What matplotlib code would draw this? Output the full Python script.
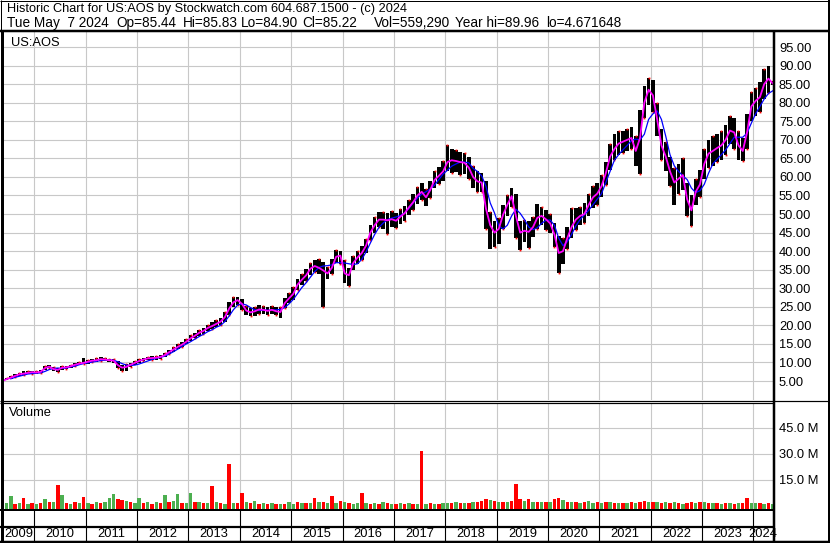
import numpy as np
import pandas as pd
import matplotlib
matplotlib.use('Agg')
import matplotlib.pyplot as plt
from matplotlib.lines import Line2D

plt.rcParams['font.family'] = ['Liberation Sans', 'DejaVu Sans']

# monthly data, May 2009 .. May 2024
months = pd.period_range('2009-05', '2024-05', freq='M')

price_mid = [5.0, 5.5, 5.9, 6.4, 6.8, 7.0, 7.2, 7.4,
	7.3, 7.5, 8.5, 8.9, 8.2, 8.0, 8.6, 8.7, 9.0, 9.4, 9.7, 9.9,
	10.2, 10.5, 10.6, 10.9, 10.8, 10.6, 10.5, 9.3, 8.6, 8.8, 9.4, 9.9,
	10.4, 10.8, 11.1, 11.2, 11.3, 11.5, 12.0, 12.8, 13.5, 14.2, 14.8, 15.6,
	16.5, 17.2, 18.0, 18.5, 19.3, 19.8, 20.4, 21.0, 22.2, 24.5, 26.2, 26.8,
	25.8, 24.0, 23.5, 23.8, 24.3, 24.2, 23.9, 24.2, 23.8, 23.6, 26.0, 27.3,
	28.5, 31.0, 32.3, 33.5, 35.3, 36.0, 35.5, 34.8, 34.0, 35.5, 38.5, 38.8,
	34.0, 33.5, 36.8, 38.3, 39.5, 41.5, 45.0, 47.0, 48.5, 48.5, 48.3, 48.6,
	48.2, 49.3, 50.2, 51.8, 53.2, 55.0, 56.0, 54.5, 56.5, 59.2, 60.3, 61.5,
	64.0, 64.5, 64.3, 64.0, 63.8, 62.5, 60.0, 58.8, 58.5, 51.5, 47.0, 45.0,
	46.0, 49.8, 52.5, 54.8, 49.5, 45.0, 45.5, 45.2, 46.5, 49.0, 49.5, 48.6,
	47.5, 44.5, 39.5, 40.0, 43.5, 46.5, 48.5, 49.5, 50.0, 52.5, 54.5, 55.5,
	57.5, 61.0, 65.5, 67.5, 69.0, 69.5, 70.0, 70.5, 67.0, 70.5, 80.0, 83.5,
	82.0, 75.5, 68.5, 65.5, 61.5, 58.5, 59.5, 60.5, 54.0, 51.0, 56.0, 58.0,
	63.5, 66.3, 67.0, 67.8, 68.5, 70.0, 72.5, 72.0, 68.5, 67.0, 72.0, 79.0,
	80.5, 81.5, 85.0, 86.5, 85.2]

price_hi = [5.3, 5.9, 6.3, 6.8, 7.2, 7.6, 7.6, 7.8,
	7.7, 8.0, 9.0, 9.3, 8.9, 8.5, 9.0, 9.1, 9.4, 9.8, 10.2, 11.2,
	10.6, 11.0, 11.1, 11.5, 11.3, 11.0, 11.0, 10.3, 9.3, 9.5, 9.9, 10.3,
	10.9, 11.3, 11.6, 11.8, 11.8, 12.0, 12.6, 13.4, 14.2, 14.9, 15.6, 16.4,
	17.3, 18.0, 18.8, 19.4, 20.2, 20.8, 21.4, 22.0, 23.5, 26.2, 27.7, 27.6,
	27.2, 25.3, 24.6, 24.9, 25.4, 25.2, 25.0, 25.3, 24.9, 25.0, 27.3, 28.7,
	30.3, 32.6, 33.9, 35.1, 36.9, 37.6, 37.8, 37.0, 35.8, 38.0, 40.3, 40.0,
	37.5, 35.5, 38.6, 40.0, 41.3, 43.4, 47.1, 49.2, 50.5, 50.5, 50.4, 50.8,
	50.2, 51.3, 52.2, 53.9, 55.4, 57.2, 58.4, 56.8, 58.8, 61.5, 62.7, 64.2,
	68.5, 67.5, 67.3, 66.8, 66.5, 65.5, 63.0, 61.5, 61.0, 59.0, 50.5, 48.0,
	49.0, 52.5, 55.0, 57.0, 55.5, 48.0, 48.5, 48.0, 49.2, 52.7, 52.0, 51.0,
	50.0, 47.5, 44.0, 43.5, 46.5, 51.5, 51.5, 52.0, 53.0, 55.5, 57.5, 58.5,
	60.5, 64.0, 69.0, 71.5, 72.5, 72.5, 73.0, 73.5, 71.0, 78.0, 84.5, 86.6,
	86.0, 80.0, 73.0, 69.5, 65.5, 62.5, 63.5, 65.0, 58.5, 55.0, 59.5, 62.0,
	67.5, 70.0, 71.0, 71.5, 72.5, 74.0, 76.5, 76.0, 72.5, 70.5, 77.0, 83.0,
	84.0, 85.5, 89.0, 89.96, 85.8]

price_lo = [4.67, 5.2, 5.5, 6.0, 6.4, 6.6, 6.9, 7.0,
	6.9, 7.1, 8.0, 8.4, 7.6, 7.5, 8.1, 8.2, 8.6, 9.0, 9.3, 9.5,
	9.7, 10.0, 10.1, 10.4, 10.3, 10.1, 9.9, 8.5, 7.8, 7.7, 8.9, 9.4,
	9.9, 10.3, 10.6, 10.6, 10.8, 11.0, 11.4, 12.2, 12.9, 13.5, 14.1, 14.9,
	15.8, 16.5, 17.2, 17.6, 18.4, 18.9, 19.5, 20.0, 21.0, 22.8, 25.0, 25.6,
	24.2, 22.8, 22.4, 22.6, 23.2, 23.1, 22.8, 23.1, 22.8, 22.0, 24.8, 26.0,
	26.8, 29.5, 30.8, 31.9, 33.7, 34.4, 33.9, 25.0, 32.5, 33.8, 36.8, 36.5,
	31.5, 30.6, 35.0, 36.6, 37.7, 39.6, 42.9, 45.0, 46.5, 46.0, 44.5, 46.5,
	46.2, 47.3, 48.2, 49.7, 51.0, 52.8, 53.8, 52.3, 54.3, 57.0, 58.0, 59.0,
	61.5, 61.0, 61.3, 60.5, 60.8, 59.5, 57.0, 56.0, 56.0, 46.0, 40.5, 41.0,
	42.0, 46.0, 49.5, 52.0, 43.5, 40.4, 42.5, 40.8, 43.8, 46.0, 47.0, 45.8,
	44.8, 41.0, 34.2, 36.5, 40.5, 43.5, 45.8, 47.0, 47.5, 49.5, 51.5, 52.5,
	54.5, 57.8, 62.0, 64.5, 66.0, 66.5, 67.0, 67.5, 63.0, 60.8, 76.0, 79.5,
	77.5, 71.0, 64.5, 61.5, 57.5, 52.5, 55.5, 56.5, 49.5, 46.8, 52.5, 54.5,
	59.5, 62.5, 63.0, 64.0, 64.5, 66.0, 69.0, 67.5, 64.5, 64.4, 67.5, 75.0,
	76.5, 77.5, 81.0, 82.5, 84.9]

ma_long = [np.nan, np.nan, 5.6, 6.0, 6.3, 6.6, 6.9, 7.0,
	7.1, 7.2, 7.6, 8.1, 8.4, 8.5, 8.4, 8.5, 8.8, 9.0, 9.4, 9.7,
	9.9, 10.1, 10.3, 10.5, 10.6, 10.7, 10.6, 10.2, 9.7, 9.3, 9.2, 9.3,
	9.6, 10.0, 10.4, 10.8, 11.1, 11.4, 11.7, 12.3, 12.9, 13.6, 14.3, 15.0,
	15.6, 16.3, 17.0, 17.6, 18.3, 18.8, 19.5, 20.0, 21.0, 22.5, 24.2, 25.5,
	25.8, 25.5, 24.8, 24.2, 24.0, 24.1, 24.1, 24.1, 24.2, 24.3, 24.8, 25.8,
	27.0, 28.6, 30.2, 31.5, 33.0, 34.5, 35.6, 36.0, 36.1, 36.3, 36.9, 36.9,
	36.8, 36.6, 36.4, 36.6, 37.8, 39.8, 42.2, 44.5, 46.4, 47.6, 48.5, 48.9,
	49.2, 49.6, 50.3, 51.5, 53.0, 54.3, 55.4, 56.0, 56.8, 57.8, 59.3, 60.8,
	61.8, 62.9, 63.5, 64.0, 64.0, 63.8, 62.3, 61.5, 60.3, 57.5, 53.0, 50.3,
	46.8, 46.0, 47.0, 49.5, 51.3, 50.2, 48.5, 46.5, 45.8, 46.3, 47.5, 48.3,
	48.4, 47.0, 43.5, 41.5, 42.5, 44.5, 46.8, 48.5, 49.8, 51.0, 52.5, 54.0,
	55.5, 58.5, 61.5, 64.5, 66.0, 67.3, 68.5, 69.8, 70.2, 70.0, 71.5, 75.5,
	77.0, 77.8, 75.5, 71.0, 66.0, 63.0, 61.5, 60.3, 59.3, 57.0, 55.8, 56.3,
	58.0, 61.0, 63.5, 64.8, 66.0, 67.3, 69.0, 70.7, 70.7, 70.7, 71.8, 74.5,
	77.0, 79.0, 81.0, 82.5, 83.2]

volume_m = [1.5, 2.0, 5.8, 1.4, 1.6, 4.8, 1.2, 1.8,
	1.4, 2.0, 4.3, 2.2, 2.5, 12.1, 6.3, 1.6, 1.2, 2.4, 1.7, 5.0,
	1.8, 1.4, 2.2, 1.7, 2.5, 4.6, 6.9, 4.0, 3.5, 3.0, 2.2, 1.7,
	4.8, 2.0, 2.4, 1.4, 2.5, 1.8, 6.3, 2.2, 2.8, 6.9, 1.6, 2.0,
	7.3, 2.2, 2.5, 1.8, 2.0, 11.7, 2.2, 1.7, 1.4, 24.2, 1.8, 1.6,
	7.6, 2.2, 1.7, 2.8, 1.4, 1.6, 1.2, 1.8, 1.4, 1.0, 1.2, 2.2,
	1.4, 2.2, 1.6, 1.8, 2.0, 4.4, 2.2, 2.5, 1.8, 5.8, 1.6, 3.0,
	2.4, 2.0, 1.4, 1.8, 7.7, 1.6, 1.4, 1.8, 1.2, 2.2, 1.6, 1.4,
	1.2, 1.6, 1.4, 1.8, 1.2, 1.4, 31.9, 1.2, 1.6, 1.4, 1.2, 1.8,
	1.6, 2.0, 2.5, 1.8, 2.0, 1.6, 2.2, 2.4, 3.0, 4.0, 3.5, 3.0,
	2.5, 2.4, 2.2, 3.0, 12.7, 4.0, 2.8, 4.0, 2.2, 2.5, 2.4, 2.2,
	2.5, 4.0, 4.5, 3.5, 2.5, 2.2, 2.4, 2.0, 2.2, 3.0, 2.0, 2.2,
	2.0, 2.2, 2.5, 1.8, 1.6, 1.7, 2.0, 2.4, 1.8, 2.2, 3.0, 2.2,
	2.5, 2.2, 2.0, 2.4, 1.8, 2.2, 1.6, 1.4, 2.0, 2.5, 1.8, 2.2,
	2.2, 2.0, 1.6, 1.8, 1.4, 1.6, 1.8, 1.4, 1.6, 2.0, 4.5, 1.8,
	1.8, 1.6, 1.4, 2.0, 1.0]

# bar colour per month as seen on the chart: r = down, g = up
volume_dir = ("rggrgrgr" + "grgrgrgrgrgr" + "grgrgggrrgrg" + "grgrgrgrggrg"
	+ "grgrgrgrgrgr" + "rgrgrgrgrgrg" + "grgrgrgrgrgr" + "grggrgrgrgrg"
	+ "rgrgrgrgrgrg" + "grgrgrgrrrgr" + "grgrrrgrgrgr" + "grrgrgrgrggr"
	+ "grgrgrgrgrrg" + "rgrgrgrgrrgr" + "grgrgrgrgrrg" + "grgrg")

years = list(range(2009, 2025))
price_ticks = list(range(5, 100, 5))
vol_ticks = [15, 30, 45]

header1 = "Historic Chart for US:AOS by Stockwatch.com 604.687.1500 - (c) 2024"
header2 = [("Tue May  7 2024", 6.7), ("Op=85.44", 116), ("Hi=85.83", 183),
	("Lo=84.90", 241), ("Cl=85.22", 302), ("Vol=559,290", 374),
	("Year hi=89.96", 455), ("lo=4.671648", 546)]

t = np.array([m.year + (m.month - 0.5) / 12 for m in months])
mid = np.array(price_mid)
hi = np.array(price_hi)
lo = np.array(price_lo)
vol = np.array(volume_m)

W, H = 830, 543
FS = 9.3
x0, x1 = 2009.39, 2024.38
vlo, vhi = -1.73, 59.42

fig = plt.figure(figsize=(W / 100, H / 100), dpi=100)

def rect(l, top, r, bot):
	return [l / W, 1 - bot / H, (r - l) / W, (bot - top) / H]

def line(xa, ya, xb, yb, lw):
	fig.add_artist(Line2D([xa / W, xb / W], [1 - ya / H, 1 - yb / H], transform=fig.transFigure,
		color='black', lw=lw * 0.72, solid_capstyle='butt', zorder=10))

grid = '#c8c8c8'

# price panel
ax = fig.add_axes(rect(3, 31, 773, 400))
ax.set_xlim(x0, x1)
ax.set_ylim(-0.11, 99.33)
for y in price_ticks:
	ax.axhline(y, color=grid, lw=0.8, zorder=0)
for yr in years[1:]:
	ax.axvline(yr, color=grid, lw=0.8, zorder=0)
ax.bar(t, hi - lo, bottom=lo, width=0.85 / 12, color='black', lw=0, zorder=2)
down = np.array([c == 'r' for c in volume_dir])
ax.plot(t[down], lo[down], ls='none', marker='s', ms=1.3, color='red', mew=0, zorder=3)
ax.plot(t[~down], hi[~down], ls='none', marker='s', ms=1.3, color='red', mew=0, zorder=3)
ax.plot(t, ma_long, color='#0000ff', lw=0.9, zorder=4)
ax.plot(t, mid, color='#ff00ff', lw=1.3, zorder=5)
ax.yaxis.tick_right()
ax.set_yticks(price_ticks)
ax.set_yticklabels(['%.2f' % v for v in price_ticks], fontsize=FS)
ax.tick_params(axis='y', length=0, pad=4.3)
ax.set_xticks([])
for s in ax.spines.values():
	s.set_visible(False)
ax.text(8 / 770, 1 - 12 / 369, 'US:AOS', transform=ax.transAxes, fontsize=FS, va='center', ha='left')

# volume panel
av = fig.add_axes(rect(3, 403, 773, 509))
av.set_xlim(x0, x1)
av.set_ylim(vlo, vhi)
for y in vol_ticks:
	av.axhline(y, color=grid, lw=0.8, zorder=0)
for yr in years[1:]:
	av.axvline(yr, color=grid, lw=0.8, zorder=0)
vcol = ['#ff0000' if d else '#4caf50' for d in down]
av.bar(t, vol - vlo, bottom=vlo, width=0.8 / 12, color=vcol, lw=0, zorder=2)
av.yaxis.tick_right()
av.set_yticks(vol_ticks)
av.set_yticklabels(['%.1f M' % v for v in vol_ticks], fontsize=FS)
av.tick_params(axis='y', length=0, pad=4.3)
av.set_xticks([])
for s in av.spines.values():
	s.set_visible(False)
av.text(6 / 770, 1 - 10 / 106, 'Volume', transform=av.transAxes, fontsize=FS, va='center', ha='left')

# year strip
ay = fig.add_axes(rect(3, 509, 773, 541))
ay.set_xlim(x0, x1)
ay.set_ylim(0, 32)
ay.axis('off')
for yr in years[1:]:
	ay.axvline(yr, color='black', lw=0.8)
for yr in years:
	a, b = max(yr, x0), min(yr + 1, x1)
	ay.text((a + b) / 2, 7, str(yr), ha='center', va='center', fontsize=FS)

# frame lines
line(0, 0.5, W, 0.5, 1)
line(0, 31, W, 31, 2.5)
line(0.5, 0, 0.5, 31, 1)
line(1.5, 31, 1.5, H, 3)
line(W - 1, 0, W - 1, H, 2)
line(773.5, 31, 773.5, H, 2.5)
line(0, 400.5, W, 400.5, 1.2)
line(0, 403, 773, 403, 1.2)
line(0, 509.5, 773, 509.5, 2)
line(0, 526.5, 773, 526.5, 2.2)
line(0, H - 1.5, W, H - 1.5, 2.5)

# header
fig.text(6.7 / W, 1 - 9 / H, header1, fontsize=9.15, ha='left', va='center')
for s, x in header2:
	fig.text(x / W, 1 - 23 / H, s, fontsize=9.8, ha='left', va='center')

fig.savefig('out.png', dpi=100)
